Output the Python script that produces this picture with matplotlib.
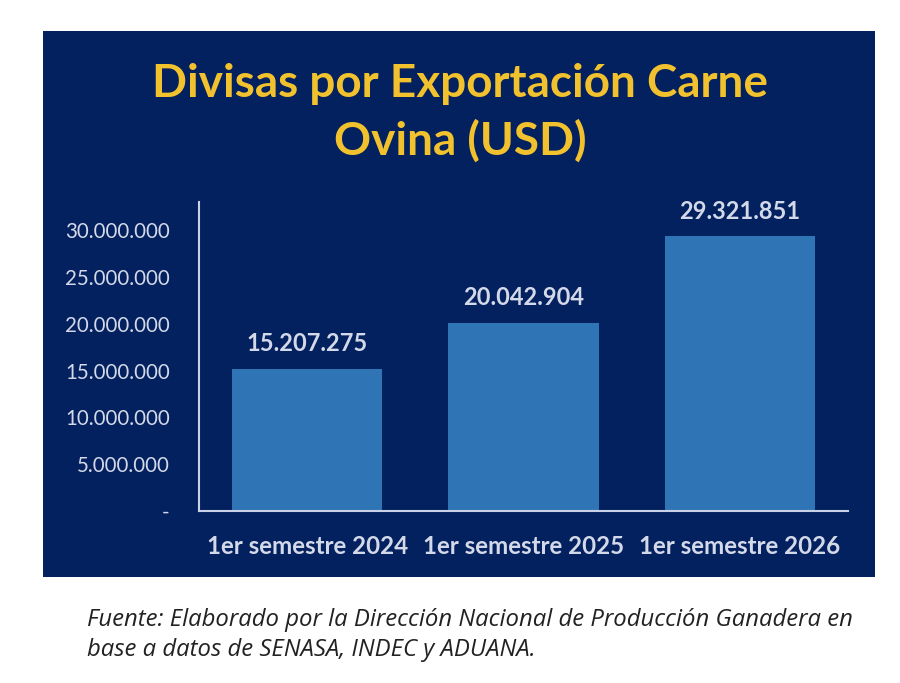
import matplotlib
matplotlib.use("Agg")
import matplotlib.pyplot as plt
from matplotlib.patches import Rectangle
from matplotlib.ticker import FuncFormatter

categories = ["1er semestre 2024", "1er semestre 2025", "1er semestre 2026"]
values = [15207275, 20042904, 29321851]
yticks = [0, 5000000, 10000000, 15000000, 20000000, 25000000, 30000000]
title = "Divisas por Exportación Carne\nOvina (USD)"
source = ("Fuente: Elaborado por la Dirección Nacional de Producción Ganadera en\n"
          "base a datos de SENASA, INDEC y ADUANA.")

NAVY = "#03205f"
BAR = "#2f74b5"
LIGHT = "#d3d9e8"
GOLD = "#f2c12e"

def fmt(v, pos=None):
    if v == 0:
        return "-"
    return f"{int(round(v)):,}".replace(",", ".")

fig = plt.figure(figsize=(9, 6.83), dpi=100)
fig.patch.set_facecolor("white")
W, H = 900, 683

fig.patches.append(Rectangle((43 / W, 1 - 577 / H), (875 - 43) / W, (577 - 31) / H,
                             transform=fig.transFigure, facecolor=NAVY,
                             edgecolor="none", zorder=-5))

ax = fig.add_axes([199 / W, 1 - 511 / H, (848 - 199) / W, (511 - 202) / H])
ax.set_zorder(2)
ax.set_facecolor("none")
x = list(range(len(categories)))
ax.bar(x, values, width=0.695, color=BAR, zorder=2)
ax.set_xlim(-0.5, len(categories) - 0.5)
ax.set_ylim(0, 33000000)
ax.set_yticks(yticks)
ax.yaxis.set_major_formatter(FuncFormatter(fmt))
ax.set_xticks(x)
ax.set_xticklabels(categories, fontsize=17.4, fontweight="bold", color=LIGHT, family="Lato")
for lab in ax.get_yticklabels():
    lab.set_family("Lato")
ax.tick_params(axis="y", length=0, pad=21, labelsize=14.8, labelcolor=LIGHT)
ax.tick_params(axis="x", length=0, pad=17)
for s in ["top", "right"]:
    ax.spines[s].set_visible(False)
for s in ["left", "bottom"]:
    ax.spines[s].set_color("#c9d2e6")
    ax.spines[s].set_linewidth(1.5)

for xi, v in zip(x, values):
    ax.annotate(fmt(v), (xi, v), xytext=(0, 10), textcoords="offset points",
                ha="center", va="bottom", fontsize=17, fontweight="bold",
                color=LIGHT, family="Lato")

fig.text(460 / W, 1 - 113 / H, title, ha="center", va="center", fontsize=33,
         fontweight="bold", color=GOLD, family="Lato", linespacing=1.42)

fig.text(87 / W, 1 - 635 / H, source, ha="left", va="center", fontsize=17.2,
         style="italic", color="#222222", family="Open Sans", linespacing=1.3)

fig.savefig("out.png", dpi=100, facecolor="white")
